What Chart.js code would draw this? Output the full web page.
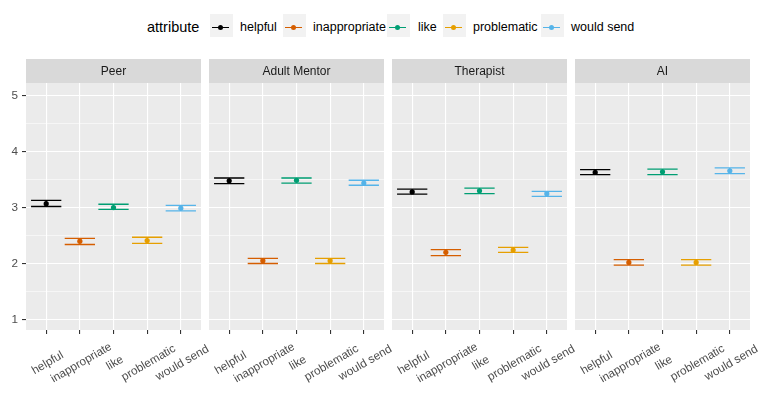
<!DOCTYPE html>
<html>
<head>
<meta charset="utf-8">
<script src="https://cdn.jsdelivr.net/npm/chart.js@4.4.1/dist/chart.umd.min.js"></script>
<style>
  body { margin: 0; background: #fff; font-family: "Liberation Sans", Arial, sans-serif; }
  #wrap { position: relative; width: 758px; height: 395px; overflow: hidden; }
  #wrap canvas { position: absolute; left: 0; top: 0; }
  .lg-title { position: absolute; left: 147px; top: 19px; font-size: 14.5px; line-height: 17px; color: #000; }
  .key { position: absolute; top: 14px; width: 23px; height: 23px; background: #f2f2f2; }
  .key .ln { position: absolute; left: 2px; width: 17px; top: 12.5px; height: 1.2px; }
  .key .dot { position: absolute; left: 8px; top: 10.6px; width: 5px; height: 5px; border-radius: 50%; }
  .lbl { position: absolute; top: 20px; font-size: 12.5px; line-height: 15px; color: #000; white-space: nowrap; }
</style>
</head>
<body>
<div id="wrap"></div>
<script>
const attributes = ['helpful', 'inappropriate', 'like', 'problematic', 'would send'];
const colors = ['#000000', '#D55E00', '#009E73', '#E69F00', '#56B4E9'];
const panelNames = ['Peer', 'Adult Mentor', 'Therapist', 'AI'];

// means and error bar limits
const peerMean = [3.07, 2.40, 3.00, 2.41, 2.99];
const peerLower = [3.02, 2.34, 2.97, 2.36, 2.94];
const peerUpper = [3.13, 2.45, 3.06, 2.47, 3.04];

const mentorMean = [3.48, 2.05, 3.49, 2.05, 3.44];
const mentorLower = [3.43, 2.00, 3.44, 2.00, 3.40];
const mentorUpper = [3.53, 2.09, 3.53, 2.09, 3.49];

const therapistMean = [3.28, 2.20, 3.30, 2.24, 3.25];
const therapistLower = [3.24, 2.14, 3.25, 2.20, 3.20];
const therapistUpper = [3.33, 2.25, 3.35, 2.29, 3.29];

const aiMean = [3.63, 2.02, 3.64, 2.02, 3.66];
const aiLower = [3.59, 1.97, 3.59, 1.97, 3.61];
const aiUpper = [3.68, 2.07, 3.69, 2.07, 3.71];

const yTicks = [1, 1.5, 2, 2.5, 3, 3.5, 4, 4.5, 5];

const means = [peerMean, mentorMean, therapistMean, aiMean];
const lowers = [peerLower, mentorLower, therapistLower, aiLower];
const uppers = [peerUpper, mentorUpper, therapistUpper, aiUpper];

const panelLeft = [26, 209, 392, 575];
const panelWidth = 175;
const stripHeight = 24;
const FONT = '"Liberation Sans", Arial, sans-serif';

const wrap = document.getElementById('wrap');

// legend
const lgTitle = document.createElement('div');
lgTitle.className = 'lg-title';
lgTitle.textContent = 'attribute';
wrap.appendChild(lgTitle);
const keyLeft = [210, 283, 387, 443, 541];
const labelLeft = [240, 313, 418, 473, 571];
attributes.forEach((a, i) => {
    const key = document.createElement('div');
    key.className = 'key';
    key.style.left = keyLeft[i] + 'px';
    key.innerHTML = '<div class="ln" style="background:' + colors[i] + '"></div>' +
        '<div class="dot" style="background:' + colors[i] + '"></div>';
    wrap.appendChild(key);
    const lbl = document.createElement('div');
    lbl.className = 'lbl';
    lbl.style.left = labelLeft[i] + 'px';
    lbl.textContent = a;
    wrap.appendChild(lbl);
});

const panelBg = {
    id: 'panelBg',
    beforeDraw(chart) {
        const { ctx, chartArea } = chart;
        ctx.save();
        ctx.fillStyle = '#EBEBEB';
        ctx.fillRect(chartArea.left, chartArea.top, chartArea.width, chartArea.height);
        ctx.fillStyle = '#D9D9D9';
        ctx.fillRect(chartArea.left, chartArea.top - stripHeight, chartArea.width, stripHeight);
        ctx.restore();
    }
};

// ggplot-style rotated labels: centred on the tick, rotated 30 degrees
const xLabels = {
    id: 'xLabels',
    afterDraw(chart) {
        const { ctx } = chart;
        const x = chart.scales.x;
        ctx.save();
        ctx.font = '11.7px ' + FONT;
        ctx.fillStyle = '#4D4D4D';
        ctx.textAlign = 'center';
        ctx.textBaseline = 'middle';
        attributes.forEach((a, i) => {
            ctx.save();
            ctx.translate(x.getPixelForValue(i) + 1.5, x.top + 33);
            ctx.rotate(-Math.PI / 6);
            ctx.fillText(a, 0, 0);
            ctx.restore();
        });
        ctx.restore();
    }
};

panelNames.forEach((name, p) => {
    const canvas = document.createElement('canvas');
    canvas.width = 758;
    canvas.height = 395;
    wrap.appendChild(canvas);

    const datasets = [];
    attributes.forEach((a, i) => {
        const lo = lowers[p][i], hi = uppers[p][i];
        datasets.push({
            showLine: true,
            data: [
                { x: i - 0.45, y: hi }, { x: i + 0.45, y: hi }, { x: i, y: null },
                { x: i - 0.45, y: lo }, { x: i + 0.45, y: lo }, { x: i, y: null },
                { x: i, y: lo }, { x: i, y: hi }
            ],
            borderColor: colors[i],
            borderWidth: 1.3,
            pointRadius: 0,
            spanGaps: false
        });
        datasets.push({
            data: [{ x: i, y: means[p][i] }],
            backgroundColor: colors[i],
            borderColor: colors[i],
            borderWidth: 0,
            pointRadius: 2.6
        });
    });

    new Chart(canvas, {
        type: 'scatter',
        data: { datasets },
        plugins: [panelBg, xLabels],
        options: {
            responsive: false,
            animation: false,
            events: [],
            layout: {
                padding: { top: 59, left: panelLeft[p] - 26, right: 758 - panelLeft[p] - panelWidth, bottom: 0 }
            },
            plugins: {
                legend: { display: false },
                tooltip: { enabled: false },
                title: {
                    display: true,
                    text: name,
                    fullSize: false,
                    color: '#1A1A1A',
                    font: { size: 12, family: FONT, weight: 'normal' },
                    padding: { top: 5, bottom: 4.6 }
                }
            },
            scales: {
                x: {
                    type: 'linear',
                    min: -0.6,
                    max: 4.6,
                    afterBuildTicks: s => { s.ticks = attributes.map((a, i) => ({ value: i })); },
                    afterFit: s => { s.height = 65; },
                    ticks: { display: false },
                    grid: { color: '#FFFFFF', lineWidth: 1.1, tickColor: '#333333', tickLength: 4, tickWidth: 1.1 },
                    border: { display: false }
                },
                y: {
                    min: 0.81,
                    max: 5.23,
                    afterBuildTicks: s => { s.ticks = yTicks.map(v => ({ value: v })); },
                    afterFit: s => { s.width = 26; },
                    ticks: {
                        display: p === 0,
                        callback: v => Number.isInteger(v) ? String(v) : '',
                        color: '#4D4D4D',
                        font: { size: 11.7, family: FONT },
                        padding: 4
                    },
                    grid: {
                        color: '#FFFFFF',
                        lineWidth: c => Number.isInteger(c.tick.value) ? 1.1 : 0.55,
                        tickColor: c => (p === 0 && Number.isInteger(c.tick.value)) ? '#333333' : 'rgba(0,0,0,0)',
                        tickLength: 4,
                        tickWidth: 1.1
                    },
                    border: { display: false }
                }
            }
        }
    });
});
</script>
</body>
</html>
